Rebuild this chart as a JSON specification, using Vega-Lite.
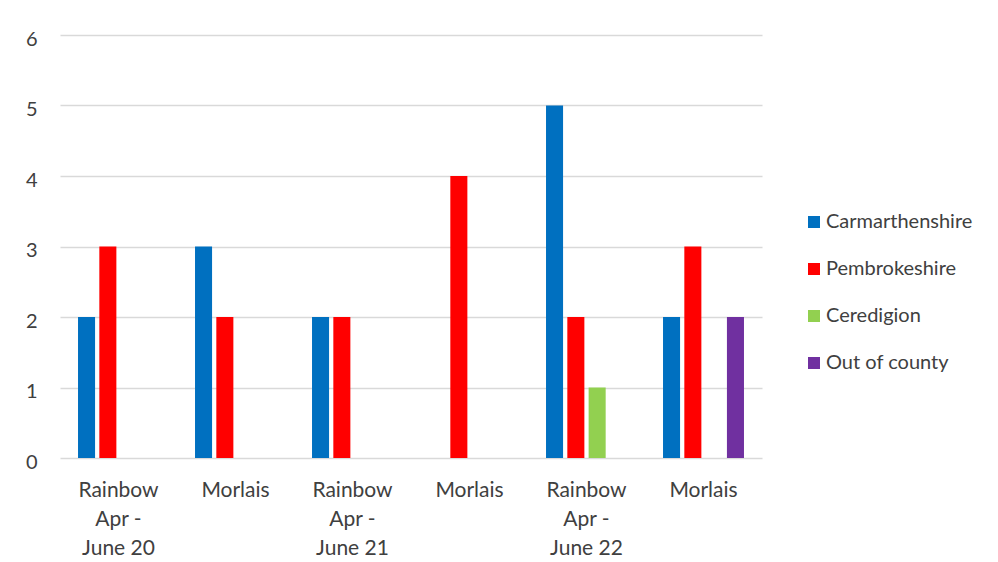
{
  "$schema": "https://vega.github.io/schema/vega-lite/v6.json",
  "autosize": {"type": "none"},
  "width": 702,
  "height": 423,
  "padding": {"left": 60, "top": 35, "right": 236, "bottom": 104},
  "background": "white",
  "config": {
    "view": {"stroke": null},
    "font": "Lato",
    "axis": {"labelColor": "#404040", "labelFont": "Lato", "labelFontSize": 20}
  },
  "data": {
    "values": [
      {"group": "Rainbow|Apr -|June 20", "series": "Carmarthenshire", "value": 2},
      {"group": "Rainbow|Apr -|June 20", "series": "Pembrokeshire", "value": 3},
      {"group": "Rainbow|Apr -|June 20", "series": "Ceredigion", "value": 0},
      {"group": "Rainbow|Apr -|June 20", "series": "Out of county", "value": 0},
      {"group": "Morlais 20", "series": "Carmarthenshire", "value": 3},
      {"group": "Morlais 20", "series": "Pembrokeshire", "value": 2},
      {"group": "Morlais 20", "series": "Ceredigion", "value": 0},
      {"group": "Morlais 20", "series": "Out of county", "value": 0},
      {"group": "Rainbow|Apr -|June 21", "series": "Carmarthenshire", "value": 2},
      {"group": "Rainbow|Apr -|June 21", "series": "Pembrokeshire", "value": 2},
      {"group": "Rainbow|Apr -|June 21", "series": "Ceredigion", "value": 0},
      {"group": "Rainbow|Apr -|June 21", "series": "Out of county", "value": 0},
      {"group": "Morlais 21", "series": "Carmarthenshire", "value": 0},
      {"group": "Morlais 21", "series": "Pembrokeshire", "value": 4},
      {"group": "Morlais 21", "series": "Ceredigion", "value": 0},
      {"group": "Morlais 21", "series": "Out of county", "value": 0},
      {"group": "Rainbow|Apr -|June 22", "series": "Carmarthenshire", "value": 5},
      {"group": "Rainbow|Apr -|June 22", "series": "Pembrokeshire", "value": 2},
      {"group": "Rainbow|Apr -|June 22", "series": "Ceredigion", "value": 1},
      {"group": "Rainbow|Apr -|June 22", "series": "Out of county", "value": 0},
      {"group": "Morlais 22", "series": "Carmarthenshire", "value": 2},
      {"group": "Morlais 22", "series": "Pembrokeshire", "value": 3},
      {"group": "Morlais 22", "series": "Ceredigion", "value": 0},
      {"group": "Morlais 22", "series": "Out of county", "value": 2}
    ]
  },
  "mark": {"type": "bar"},
  "encoding": {
    "x": {
      "field": "group",
      "type": "nominal",
      "sort": null,
      "scale": {"paddingInner": 0.308, "paddingOuter": 0.154},
      "axis": {
        "title": null,
        "labelAngle": 0,
        "ticks": false,
        "domain": false,
        "labelPadding": 21,
        "labelFontSize": 21,
        "labelLineHeight": 29,
        "labelBaseline": "top",
        "labelExpr": "indexof(datum.value, 'Morlais') == 0 ? 'Morlais' : split(datum.value, '|')"
      }
    },
    "xOffset": {
      "field": "series",
      "type": "nominal",
      "scale": {
        "domain": ["Carmarthenshire", "Pembrokeshire", "Ceredigion", "Out of county"],
        "paddingInner": 0.2,
        "paddingOuter": 0
      }
    },
    "y": {
      "field": "value",
      "type": "quantitative",
      "scale": {"domain": [0, 6], "nice": false},
      "axis": {
        "title": null,
        "values": [0, 1, 2, 3, 4, 5, 6],
        "grid": true,
        "gridColor": "#d9d9d9",
        "gridWidth": 1.5,
        "domain": false,
        "ticks": false,
        "labelPadding": 23,
        "labelOffset": 4
      }
    },
    "color": {
      "field": "series",
      "type": "nominal",
      "scale": {
        "domain": ["Carmarthenshire", "Pembrokeshire", "Ceredigion", "Out of county"],
        "range": ["#0070C0", "#FF0000", "#92D050", "#7030A0"]
      },
      "legend": {
        "title": null,
        "orient": "none",
        "legendX": 744,
        "legendY": 177,
        "symbolType": "square",
        "symbolSize": 144,
        "symbolStrokeWidth": 0,
        "labelFont": "Lato",
        "labelFontSize": 20,
        "labelColor": "#404040",
        "labelOffset": 2,
        "rowPadding": 27
      }
    }
  }
}
